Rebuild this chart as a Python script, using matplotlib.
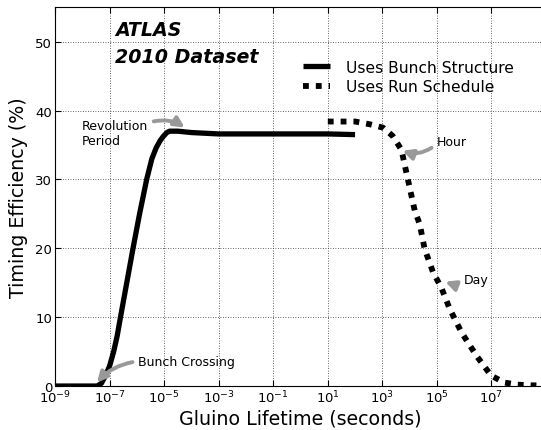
import numpy as np
import matplotlib
matplotlib.use("Agg")
import matplotlib.pyplot as plt

# Data (log10 of lifetime in seconds, efficiency in %)
bunch_logt = [-9.0, -7.45, -7.3, -7.15, -7.0, -6.85, -6.72, -6.6, -6.48,
              -6.14, -5.9, -5.64, -5.45, -5.29, -5.15, -5.04, -4.9, -4.8,
              -4.5, -4.0, -3.0, -1.0, 1.0, 2.0]
bunch_eff = [0.0, 0.0, 0.4, 1.5, 2.9, 5.0, 7.3, 10.0, 12.6,
             20.0, 25.0, 30.0, 33.0, 34.6, 35.6, 36.2, 36.8, 37.0,
             37.0, 36.8, 36.6, 36.6, 36.6, 36.5]

run_logt = [1.0, 2.0, 2.54, 3.03, 3.38, 3.70, 3.88, 4.19, 4.37, 4.55,
            4.86, 5.16, 5.47, 5.90, 6.45, 6.99, 7.48, 7.96, 8.46, 8.8]
run_eff = [38.4, 38.4, 38.0, 37.5, 36.3, 34.3, 31.0, 25.4, 23.5, 19.9,
           16.5, 14.3, 11.2, 7.8, 4.4, 1.5, 0.5, 0.2, 0.1, 0.1]

fig = plt.figure(figsize=(5.41, 4.31), dpi=100)
ax = fig.add_axes([0.1017, 0.102, 0.9076, 0.879])

ax.plot(10.0 ** np.array(bunch_logt), bunch_eff, color="black", lw=3.8,
        solid_capstyle="butt", label="Uses Bunch Structure")
ax.plot(10.0 ** np.array(run_logt), run_eff, color="black", lw=4.2,
        dashes=(1, 1.2), dash_capstyle="butt", label="Uses Run Schedule")

ax.set_xscale("log")
ax.set_xlim(1e-9, 1e9)
ax.set_ylim(0, 55)
ax.set_xticks([10.0 ** k for k in range(-9, 9, 2)])
ax.xaxis.set_minor_locator(matplotlib.ticker.NullLocator())
ax.set_yticks([0, 10, 20, 30, 40, 50])
ax.tick_params(direction="in", top=True, right=True, labelsize=9.5,
               length=4, pad=2)
ax.grid(True, color="#333333", linestyle=(0, (1, 2)), lw=0.6)

ax.set_xlabel("Gluino Lifetime (seconds)", fontsize=13.7, labelpad=2)
ax.set_ylabel("Timing Efficiency (%)", fontsize=13.7, labelpad=5)

ax.text(0.122, 0.942, "ATLAS", transform=ax.transAxes, fontsize=13.7,
        fontweight="bold", fontstyle="italic", va="center")
ax.text(0.122, 0.871, "2010 Dataset", transform=ax.transAxes, fontsize=13.7,
        fontweight="bold", fontstyle="italic", va="center")

ax.legend(loc="upper left", bbox_to_anchor=(0.476, 0.898), frameon=False,
          fontsize=11.2, handlelength=1.75, handletextpad=1.0,
          labelspacing=0.3)

arrow = dict(arrowstyle="-|>", color="#999999", lw=2.8, mutation_scale=15)
ax.annotate("Revolution\nPeriod", xy=(10 ** -4.16, 37.3),
            xytext=(10 ** -8.01, 36.8), fontsize=9, va="center",
            arrowprops=dict(arrow, relpos=(1.0, 0.85),
                            connectionstyle="arc3,rad=-0.25"))
ax.annotate("Hour", xy=(10 ** 3.64, 34.3), xytext=(10 ** 4.99, 35.5),
            fontsize=9, va="center",
            arrowprops=dict(arrow, relpos=(0.0, 0.3),
                            connectionstyle="arc3,rad=-0.3"))
ax.annotate("Day", xy=(10 ** 5.21, 15.3), xytext=(10 ** 5.98, 15.5),
            fontsize=9, va="center",
            arrowprops=dict(arrow, relpos=(0.0, 0.3),
                            connectionstyle="arc3,rad=-0.2"))
ax.annotate("Bunch Crossing", xy=(10 ** -7.53, 0.2), xytext=(10 ** -5.96, 3.6),
            fontsize=9, va="center",
            arrowprops=dict(arrow, relpos=(0.0, 0.5),
                            connectionstyle="arc3,rad=0.2"))

fig.savefig("out.png", dpi=100)
